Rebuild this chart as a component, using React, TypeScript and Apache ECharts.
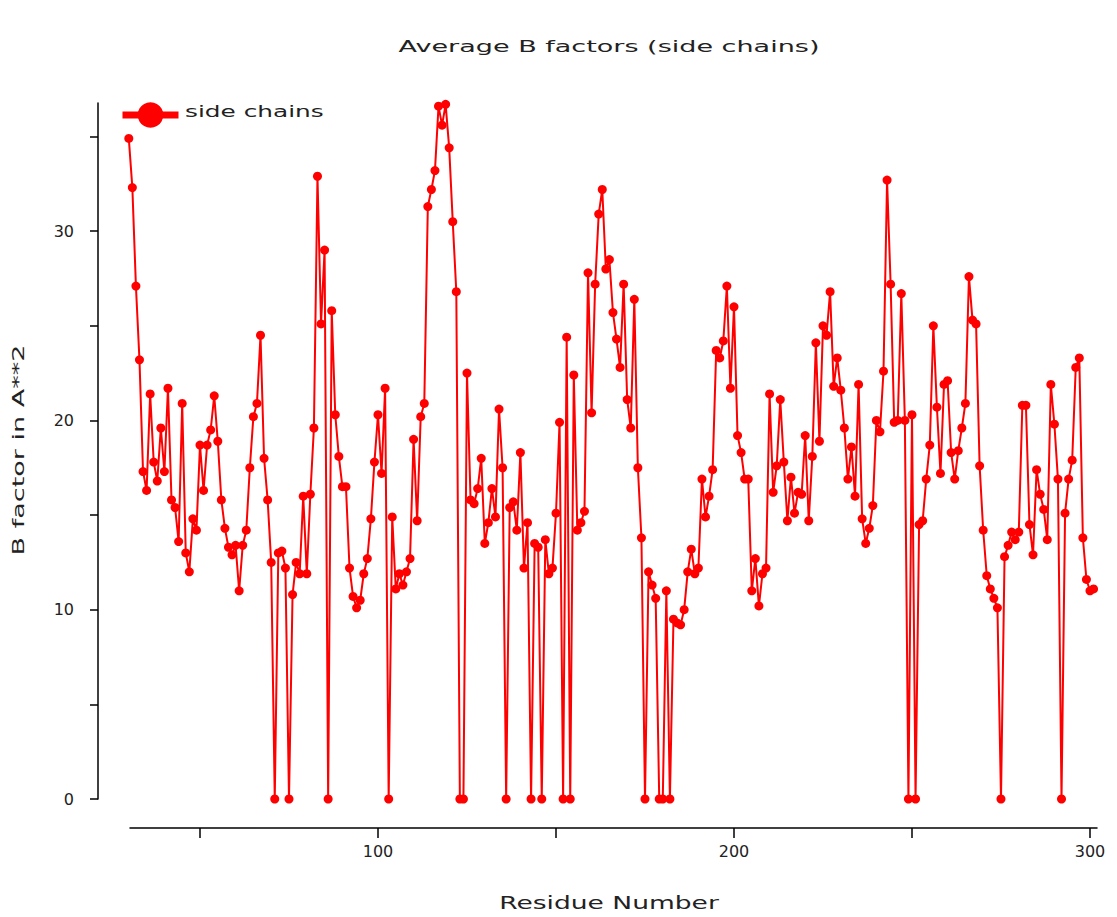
import React, { useEffect, useRef } from "react";
import * as echarts from "echarts";

const FIRST_RESIDUE = 30;
const bFactors: number[] = [
  34.9, 32.3, 27.1, 23.2, 17.3, 16.3, 21.4, 17.8, 16.8, 19.6,
  17.3, 21.7, 15.8, 15.4, 13.6, 20.9, 13.0, 12.0, 14.8, 14.2,
  18.7, 16.3, 18.7, 19.5, 21.3, 18.9, 15.8, 14.3, 13.3, 12.9,
  13.4, 11.0, 13.4, 14.2, 17.5, 20.2, 20.9, 24.5, 18.0, 15.8,
  12.5, 0, 13.0, 13.1, 12.2, 0, 10.8, 12.5, 11.9, 16.0,
  11.9, 16.1, 19.6, 32.9, 25.1, 29.0, 0, 25.8, 20.3, 18.1,
  16.5, 16.5, 12.2, 10.7, 10.1, 10.5, 11.9, 12.7, 14.8, 17.8,
  20.3, 17.2, 21.7, 0, 14.9, 11.1, 11.9, 11.3, 12.0, 12.7,
  19.0, 14.7, 20.2, 20.9, 31.3, 32.2, 33.2, 36.6, 35.6, 36.7,
  34.4, 30.5, 26.8, 0, 0, 22.5, 15.8, 15.6, 16.4, 18.0,
  13.5, 14.6, 16.4, 14.9, 20.6, 17.5, 0, 15.4, 15.7, 14.2,
  18.3, 12.2, 14.6, 0, 13.5, 13.3, 0, 13.7, 11.9, 12.2,
  15.1, 19.9, 0, 24.4, 0, 22.4, 14.2, 14.6, 15.2, 27.8,
  20.4, 27.2, 30.9, 32.2, 28.0, 28.5, 25.7, 24.3, 22.8, 27.2,
  21.1, 19.6, 26.4, 17.5, 13.8, 0, 12.0, 11.3, 10.6, 0,
  0, 11.0, 0, 9.5, 9.3, 9.2, 10.0, 12.0, 13.2, 11.9,
  12.2, 16.9, 14.9, 16.0, 17.4, 23.7, 23.3, 24.2, 27.1, 21.7,
  26.0, 19.2, 18.3, 16.9, 16.9, 11.0, 12.7, 10.2, 11.9, 12.2,
  21.4, 16.2, 17.6, 21.1, 17.8, 14.7, 17.0, 15.1, 16.2, 16.1,
  19.2, 14.7, 18.1, 24.1, 18.9, 25.0, 24.5, 26.8, 21.8, 23.3,
  21.6, 19.6, 16.9, 18.6, 16.0, 21.9, 14.8, 13.5, 14.3, 15.5,
  20.0, 19.4, 22.6, 32.7, 27.2, 19.9, 20.0, 26.7, 20.0, 0,
  20.3, 0, 14.5, 14.7, 16.9, 18.7, 25.0, 20.7, 17.2, 21.9,
  22.1, 18.3, 16.9, 18.4, 19.6, 20.9, 27.6, 25.3, 25.1, 17.6,
  14.2, 11.8, 11.1, 10.6, 10.1, 0, 12.8, 13.4, 14.1, 13.7,
  14.1, 20.8, 20.8, 14.5, 12.9, 17.4, 16.1, 15.3, 13.7, 21.9,
  19.8, 16.9, 0, 15.1, 16.9, 17.9, 22.8, 23.3, 13.8, 11.6,
  11.0, 11.1,
];
const residues: number[] = bFactors.map((_, i) => FIRST_RESIDUE + i);

const yTicks = [0, 5, 10, 15, 20, 25, 30, 35];
const yLabels = [0, 10, 20, 30];
const xTicks = [50, 100, 150, 200, 250, 300];
const xLabels = [100, 200, 300];

const TITLE = "Average B factors (side chains)";
const X_NAME = "Residue Number";
const Y_NAME = "B factor in A**2";
const SERIES_NAME = "side chains";

const FONT = "DejaVu Sans";
const TEXT_COLOR = "#222";

export default function App() {
  const ref = useRef<HTMLDivElement>(null);

  useEffect(() => {
    if (!ref.current) return;
    const chart = echarts.init(ref.current, undefined, { renderer: "svg" });
    const data = residues.map((r, i) => [r, bFactors[i]]);

    const centered = {
      align: "center",
      verticalAlign: "middle",
      textAlign: "center",
      textVerticalAlign: "middle",
    };

    chart.setOption({
      animation: false,
      backgroundColor: "#ffffff",
      grid: [
        { left: 98, top: 103, width: 999, height: 696 },
        { left: 130, top: 700, width: 967, height: 128 },
      ],
      xAxis: [
        { type: "value", gridIndex: 0, min: 21.35, max: 301.97, show: false },
        {
          type: "value",
          gridIndex: 1,
          min: 30.34,
          max: 301.97,
          axisLine: { show: true, lineStyle: { color: "#000", width: 1.5 } },
          axisTick: {
            show: true,
            customValues: xTicks,
            length: 10,
            lineStyle: { color: "#000", width: 1.5 },
          },
          axisLabel: {
            show: true,
            customValues: xLabels,
            margin: 15,
            fontSize: 16,
            fontFamily: FONT,
            color: TEXT_COLOR,
          },
          splitLine: { show: false },
        },
      ],
      yAxis: [
        {
          type: "value",
          gridIndex: 0,
          min: 0,
          max: 36.77,
          axisLine: { show: true, lineStyle: { color: "#000", width: 1.5 } },
          axisTick: {
            show: true,
            customValues: yTicks,
            length: 8,
            lineStyle: { color: "#000", width: 1.5 },
          },
          axisLabel: {
            show: true,
            customValues: yLabels,
            margin: 24,
            fontSize: 16,
            fontFamily: FONT,
            color: TEXT_COLOR,
          },
          splitLine: { show: false },
        },
        { type: "value", gridIndex: 1, show: false, min: 0, max: 1 },
      ],
      legend: {
        show: true,
        left: 114,
        top: 94,
        itemWidth: 56,
        itemHeight: 32,
        selectedMode: false,
        lineStyle: { width: 7 },
        formatter: () => "",
        textStyle: { fontSize: 17, fontFamily: FONT, color: TEXT_COLOR },
        data: [SERIES_NAME],
      },
      graphic: [
        {
          type: "text",
          x: 609,
          y: 46,
          scaleX: 1.69,
          style: { text: TITLE, fontSize: 16, fontFamily: FONT, fill: TEXT_COLOR, ...centered },
        },
        {
          type: "text",
          x: 609,
          y: 903,
          scaleX: 1.56,
          style: { text: X_NAME, fontSize: 17, fontFamily: FONT, fill: TEXT_COLOR, ...centered },
        },
        {
          type: "text",
          x: 18,
          y: 450,
          rotation: Math.PI / 2,
          scaleX: 1.69,
          style: { text: Y_NAME, fontSize: 16, fontFamily: FONT, fill: TEXT_COLOR, ...centered },
        },
        {
          type: "text",
          x: 185,
          y: 112,
          scaleX: 1.55,
          style: {
            text: SERIES_NAME,
            fontSize: 16,
            fontFamily: FONT,
            fill: TEXT_COLOR,
            align: "left",
            textAlign: "left",
            verticalAlign: "middle",
            textVerticalAlign: "middle",
          },
        },
      ],
      series: [
        {
          name: SERIES_NAME,
          type: "line",
          xAxisIndex: 0,
          yAxisIndex: 0,
          data,
          symbol: "circle",
          symbolSize: 9,
          showSymbol: true,
          color: "#ff0000",
          lineStyle: { color: "#ff0000", width: 2 },
          itemStyle: { color: "#ff0000" },
          emphasis: { disabled: true },
        },
      ],
    });

    return () => chart.dispose();
  }, []);

  return (
    <div
      ref={ref}
      style={{
        position: "fixed",
        left: 0,
        top: 0,
        width: 1117,
        height: 917,
        background: "#fff",
      }}
    />
  );
}
